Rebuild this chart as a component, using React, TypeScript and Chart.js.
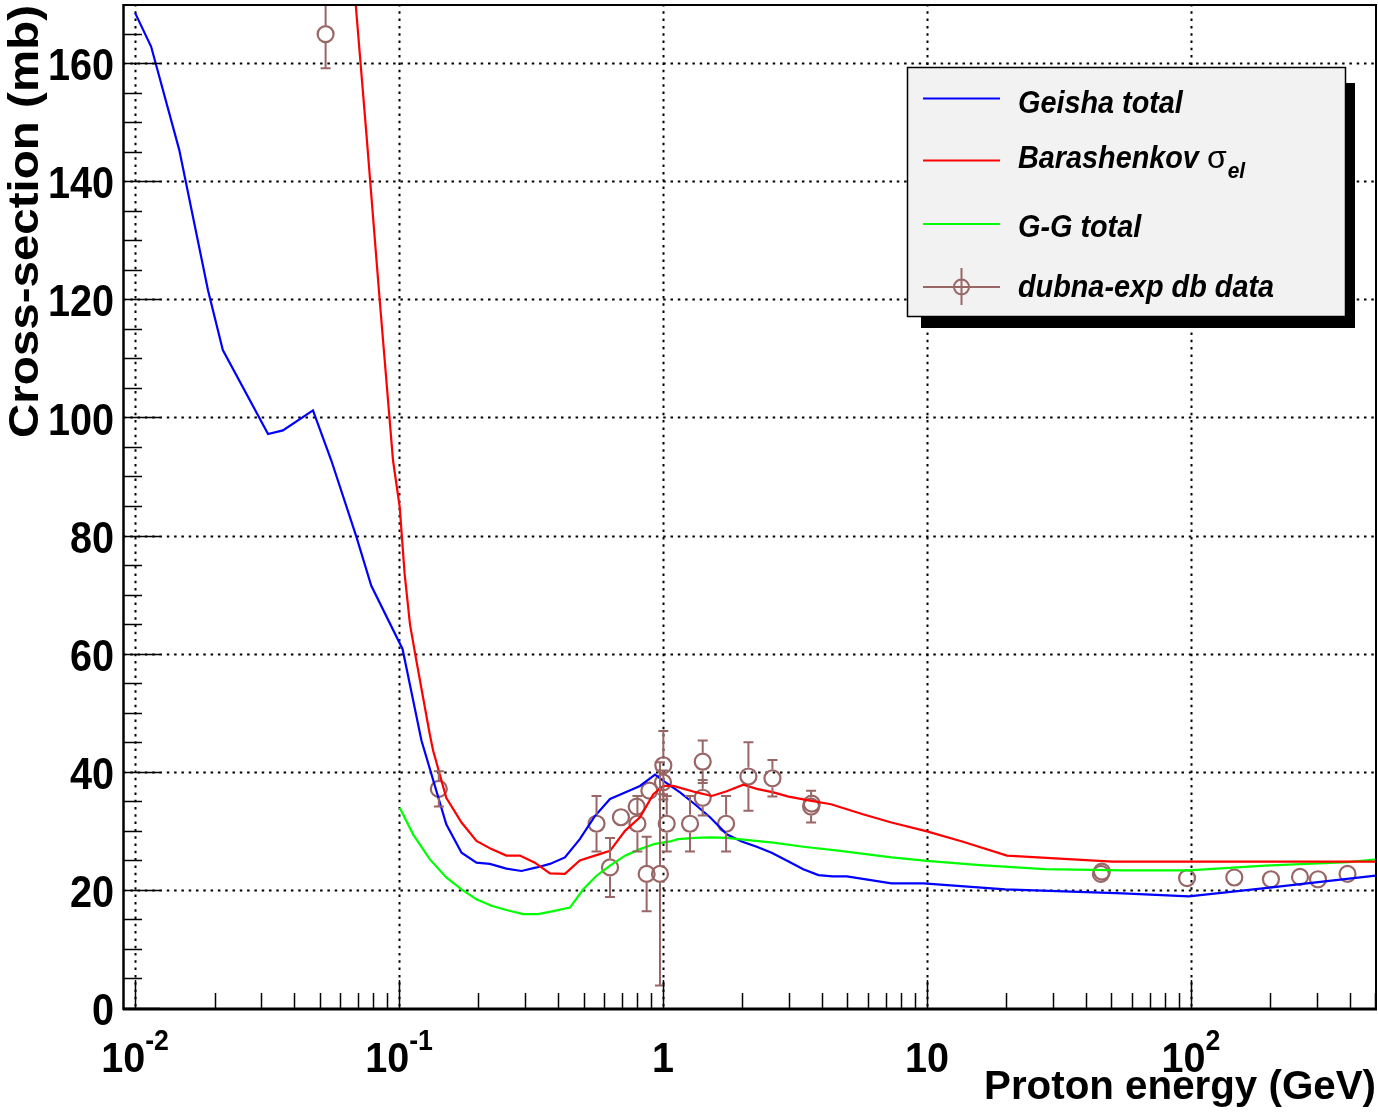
import { useEffect, useRef } from "react";
import { Chart, registerables } from "chart.js";

Chart.register(...registerables);

// ---------------- data ----------------
const geishaEnergy = [0.01, 0.0115, 0.0147, 0.0189, 0.0215, 0.0319, 0.0363, 0.0472, 0.0554, 0.0689, 0.0785, 0.1031, 0.1216, 0.151, 0.1725, 0.1965, 0.2208, 0.255, 0.291, 0.332, 0.373, 0.425, 0.484, 0.552, 0.63, 0.718, 0.818, 0.933, 1.0, 1.16, 1.32, 1.507, 1.744, 1.987, 2.265, 2.58, 2.99, 3.4, 3.88, 4.39, 4.97, 7.34, 9.7, 19.8, 55.3, 98.2, 191, 501];
const geishaXS = [168.5, 162.8, 145.3, 121.5, 111.4, 97.2, 97.8, 101.2, 92.7, 79.8, 71.5, 60.8, 45.3, 31.1, 26.3, 24.6, 24.4, 23.6, 23.2, 23.8, 24.4, 25.5, 28.6, 32.5, 35.4, 36.5, 37.6, 39.5, 38.5, 36.5, 34.5, 32.3, 29.4, 28.2, 27.3, 26.3, 24.8, 23.5, 22.5, 22.3, 22.3, 21.1, 21.1, 20.1, 19.4, 18.9, 20.3, 22.4];

const barashEnergy = [0.0657, 0.0685, 0.0752, 0.0845, 0.0949, 0.1006, 0.105, 0.11, 0.1157, 0.1307, 0.1346, 0.151, 0.1725, 0.1965, 0.224, 0.255, 0.287, 0.327, 0.373, 0.425, 0.484, 0.552, 0.63, 0.718, 0.818, 0.919, 1.003, 1.094, 1.342, 1.53, 1.744, 2.016, 2.265, 2.62, 2.99, 3.61, 4.33, 5.72, 7.34, 10.0, 13.6, 20.1, 50.4, 510];
const barashXS = [180, 170, 148.1, 119.8, 92.7, 84.8, 73.5, 65.0, 59.4, 46.4, 43.6, 35.6, 31.4, 28.3, 26.9, 25.8, 25.8, 24.6, 22.8, 22.7, 25.0, 25.8, 26.6, 30.0, 32.3, 36.2, 37.6, 37.6, 36.5, 35.9, 36.7, 37.8, 37.1, 36.5, 35.8, 35.1, 34.5, 32.8, 31.4, 29.9, 28.2, 25.8, 24.8, 24.8];

const ggEnergy = [0.1006, 0.113, 0.1307, 0.151, 0.1725, 0.1965, 0.224, 0.255, 0.295, 0.3365, 0.384, 0.444, 0.499, 0.56, 0.63, 0.718, 0.818, 0.933, 1.063, 1.14, 1.32, 1.507, 1.744, 2.016, 2.62, 3.4, 4.7, 7.34, 10, 15.9, 27.9, 55.3, 98.2, 191, 392, 510];
const ggXS = [33.9, 29.4, 25.2, 22.1, 20.1, 18.4, 17.3, 16.6, 15.9, 15.9, 16.4, 17.0, 20.1, 22.4, 24.1, 25.8, 26.9, 27.8, 28.2, 28.6, 28.8, 28.9, 28.8, 28.5, 28.0, 27.3, 26.6, 25.5, 24.9, 24.2, 23.5, 23.3, 23.3, 24.1, 24.7, 25.2];

const dubnaEnergy = [0.0527, 0.1415, 0.56, 0.63, 0.693, 0.795, 0.8, 0.867, 0.888, 0.974, 1.003, 1.0, 1.033, 1.266, 1.414, 1.414, 1.734, 2.107, 2.598, 3.64, 3.66, 45.6, 46.0, 96.7, 146, 201, 259, 303, 392];
const dubnaXS = [164.9, 37.1, 31.2, 23.8, 32.3, 34.1, 31.2, 22.7, 36.8, 22.7, 41.1, 38.2, 31.2, 31.2, 41.7, 35.6, 31.2, 39.2, 38.9, 34.1, 34.6, 22.7, 23.1, 22.0, 22.1, 21.8, 22.2, 21.8, 22.7];
const dubnaErr = [5.8, 3.0, 4.7, 5.0, 1.0, 1.5, 4.7, 6.3, 1.0, 18.9, 5.8, 2.0, 4.7, 4.7, 3.6, 3.0, 4.7, 5.8, 3.1, 2.7, 1.0, 0.8, 0.8, 0.5, 0.5, 0.5, 0.5, 0.5, 0.5];

const xMin = 0.009;
const xMax = 507;
const yMin = 0;
const yMax = 170;

const xMajorTicks = [0.01, 0.1, 1, 10, 100];
const xTickBase = ["10", "10", "1", "10", "10"];
const xTickExp = ["-2", "-1", "", "", "2"];
const yTickValues = [0, 20, 40, 60, 80, 100, 120, 140, 160];
const yMinorStep = 5;

const xTitle = "Proton energy (GeV)";
const yTitle = "Cross-section (mb)";
const legendNames = ["Geisha total", "Barashenkov ", "G-G total", "dubna-exp db data"];
const seriesColors = ["#0000ff", "#ff0000", "#00ff00", "#996666"];

const FONT = "'Liberation Sans', Arial, Helvetica, sans-serif";

function fitText(ctx: CanvasRenderingContext2D, s: string, x: number, y: number, font: string, align: CanvasTextAlign, sx: number, baseline: CanvasTextBaseline = "alphabetic") {
  ctx.save();
  ctx.font = font;
  ctx.textAlign = align;
  ctx.textBaseline = baseline;
  ctx.translate(x, y);
  ctx.scale(sx, 1);
  ctx.fillText(s, 0, 0);
  ctx.restore();
}

const rootPlugin = {
  id: "rootDecor",
  beforeDatasetsDraw(chart: any) {
    const { ctx, chartArea: a, scales } = chart;
    const xs = scales.x;
    const ys = scales.y;
    ctx.save();
    ctx.strokeStyle = "#000";
    ctx.lineWidth = 2;
    ctx.setLineDash([2.5, 4.8]);
    for (const v of xMajorTicks) {
      const px = Math.round(xs.getPixelForValue(v)) + 0.5;
      ctx.beginPath();
      ctx.moveTo(px, a.top);
      ctx.lineTo(px, a.bottom);
      ctx.stroke();
    }
    for (const v of yTickValues) {
      if (v === 0) continue;
      const py = Math.round(ys.getPixelForValue(v)) + 0.5;
      ctx.beginPath();
      ctx.moveTo(a.left, py);
      ctx.lineTo(a.right, py);
      ctx.stroke();
    }
    ctx.restore();
  },
  afterDatasetsDraw(chart: any) {
    const { ctx, chartArea: a, scales } = chart;
    const xs = scales.x;
    const ys = scales.y;

    // error bars
    ctx.save();
    ctx.beginPath();
    ctx.rect(a.left, a.top, a.right - a.left, a.bottom - a.top);
    ctx.clip();
    ctx.strokeStyle = seriesColors[3];
    ctx.lineWidth = 2;
    const r = 9;
    const cap = 5;
    dubnaEnergy.forEach((e, i) => {
      const px = xs.getPixelForValue(e);
      const py = ys.getPixelForValue(dubnaXS[i]);
      let top = ys.getPixelForValue(dubnaXS[i] + dubnaErr[i]);
      let bot = ys.getPixelForValue(dubnaXS[i] - dubnaErr[i]);
      top = Math.max(top, a.top + 1);
      bot = Math.min(bot, a.bottom - 1);
      ctx.beginPath();
      if (top < py - r) {
        ctx.moveTo(px, py - r);
        ctx.lineTo(px, top);
        ctx.moveTo(px - cap, top);
        ctx.lineTo(px + cap, top);
      }
      if (bot > py + r) {
        ctx.moveTo(px, py + r);
        ctx.lineTo(px, bot);
        ctx.moveTo(px - cap, bot);
        ctx.lineTo(px + cap, bot);
      }
      ctx.stroke();
    });
    ctx.restore();

    // ticks
    ctx.save();
    ctx.strokeStyle = "#000";
    ctx.lineWidth = 1.5;
    ctx.beginPath();
    for (let v = yMin; v < yMax; v += yMinorStep) {
      const py = Math.round(ys.getPixelForValue(v)) + 0.5;
      const len = v % 20 === 0 ? 37 : 19;
      ctx.moveTo(a.left, py);
      ctx.lineTo(a.left + len, py);
    }
    for (let d = -3; d <= 2; d++) {
      for (let k = 1; k <= 9; k++) {
        const v = k * Math.pow(10, d);
        if (v <= xMin * 1.001 || v >= xMax) continue;
        const px = Math.round(xs.getPixelForValue(v)) + 0.5;
        const len = k === 1 ? 28 : 15;
        ctx.moveTo(px, a.bottom);
        ctx.lineTo(px, a.bottom - len);
      }
    }
    ctx.stroke();

    // frame
    ctx.lineWidth = 2;
    ctx.beginPath();
    ctx.moveTo(a.left, a.top + 1);
    ctx.lineTo(a.right - 1, a.top + 1);
    ctx.lineTo(a.right - 1, a.bottom);
    ctx.stroke();
    ctx.lineWidth = 2.5;
    ctx.beginPath();
    ctx.moveTo(a.left + 0.5, a.top);
    ctx.lineTo(a.left + 0.5, a.bottom + 2);
    ctx.stroke();
    ctx.lineWidth = 3;
    ctx.beginPath();
    ctx.moveTo(a.left, a.bottom + 1);
    ctx.lineTo(a.right, a.bottom + 1);
    ctx.stroke();
    ctx.restore();

    // tick labels
    ctx.save();
    ctx.fillStyle = "#000";
    for (const v of yTickValues) {
      const py = ys.getPixelForValue(v);
      fitText(ctx, String(v), 114, py + 5, `bold 44px ${FONT}`, "right", 0.9, "middle");
    }
    xMajorTicks.forEach((v, i) => {
      const px = xs.getPixelForValue(v);
      const baseFont = `bold 43px ${FONT}`;
      const expFont = `bold 29px ${FONT}`;
      const sx = 0.92;
      ctx.font = baseFont;
      const wb = ctx.measureText(xTickBase[i]).width * sx;
      ctx.font = expFont;
      const we = xTickExp[i] ? ctx.measureText(xTickExp[i]).width * sx : 0;
      const x0 = px - (wb + we) / 2;
      fitText(ctx, xTickBase[i], x0, 1072, baseFont, "left", sx);
      if (xTickExp[i]) {
        fitText(ctx, xTickExp[i], x0 + wb, 1050, expFont, "left", sx);
      }
    });
    ctx.restore();

    // axis titles
    ctx.save();
    ctx.fillStyle = "#000";
    ctx.font = `bold 40px ${FONT}`;
    const wx = ctx.measureText(xTitle).width;
    fitText(ctx, xTitle, 1376, 1099, `bold 40px ${FONT}`, "right", 392 / wx);
    ctx.font = `bold 43px ${FONT}`;
    const wy = ctx.measureText(yTitle).width;
    ctx.translate(38, 5);
    ctx.rotate(-Math.PI / 2);
    ctx.scale(433 / wy, 1);
    ctx.textAlign = "right";
    ctx.textBaseline = "alphabetic";
    ctx.fillText(yTitle, 0, 0);
    ctx.restore();

    // legend
    ctx.save();
    ctx.fillStyle = "#000";
    ctx.fillRect(921, 83, 434, 245);
    ctx.fillStyle = "#f2f2f2";
    ctx.fillRect(907, 67, 439, 250);
    ctx.strokeStyle = "#000";
    ctx.lineWidth = 1.5;
    ctx.strokeRect(907.5, 67.5, 438, 249);
    const rowY = [98.5, 160.5, 224, 287];
    const baseY = [113, 168, 237, 297];
    for (let i = 0; i < 4; i++) {
      ctx.strokeStyle = seriesColors[i];
      ctx.lineWidth = 2;
      ctx.beginPath();
      ctx.moveTo(923, rowY[i]);
      ctx.lineTo(1000, rowY[i]);
      ctx.stroke();
      ctx.fillStyle = "#000";
      fitText(ctx, legendNames[i], 1018, baseY[i], `italic bold 32px ${FONT}`, "left", 0.9);
    }
    ctx.strokeStyle = seriesColors[3];
    ctx.lineWidth = 2;
    ctx.beginPath();
    ctx.arc(961.5, 287, 7.5, 0, Math.PI * 2);
    ctx.moveTo(961.5, 268);
    ctx.lineTo(961.5, 305);
    ctx.stroke();
    ctx.font = `italic bold 32px ${FONT}`;
    const wBar = ctx.measureText(legendNames[1]).width * 0.9;
    ctx.fillStyle = "#000";
    const sx0 = 1018 + wBar;
    fitText(ctx, "\u03c3", sx0, 168, `32px ${FONT}`, "left", 1);
    ctx.font = `32px ${FONT}`;
    const ws = ctx.measureText("\u03c3").width;
    fitText(ctx, "el", sx0 + ws + 1, 178, `italic bold 22px ${FONT}`, "left", 0.95);
    ctx.restore();
  },
};

function pts(xv: number[], yv: number[]) {
  return xv.map((x, i) => ({ x, y: yv[i] }));
}

export default function App() {
  const ref = useRef<HTMLCanvasElement>(null);
  useEffect(() => {
    document.body.style.margin = "0";
    const canvas = ref.current!;
    const lineDs = (label: string, xv: number[], yv: number[], color: string) => ({
      label,
      data: pts(xv, yv),
      showLine: true,
      borderColor: color,
      backgroundColor: color,
      borderWidth: 2.2,
      pointRadius: 0,
      pointHoverRadius: 0,
      tension: 0,
      clip: 0,
    });
    const chart = new Chart(canvas, {
      type: "scatter",
      data: {
        datasets: [
          lineDs(legendNames[1], barashEnergy, barashXS, seriesColors[1]),
          lineDs(legendNames[2], ggEnergy, ggXS, seriesColors[2]),
          lineDs(legendNames[0], geishaEnergy, geishaXS, seriesColors[0]),
          {
            label: legendNames[3],
            data: pts(dubnaEnergy, dubnaXS),
            showLine: false,
            pointStyle: "circle",
            pointRadius: 8,
            pointBorderWidth: 2.2,
            pointBorderColor: seriesColors[3],
            pointBackgroundColor: "rgba(0,0,0,0)",
            borderColor: seriesColors[3],
            backgroundColor: "rgba(0,0,0,0)",
            clip: 0,
          } as any,
        ],
      },
      options: {
        responsive: false,
        animation: false,
        devicePixelRatio: 1,
        layout: { autoPadding: false, padding: { left: 123, top: 4, right: 1, bottom: 108 } },
        scales: {
          x: { type: "logarithmic", min: xMin, max: xMax, display: false },
          y: { type: "linear", min: yMin, max: yMax, display: false },
        },
        plugins: { legend: { display: false }, tooltip: { enabled: false } },
        events: [],
      },
      plugins: [rootPlugin],
    } as any);
    return () => chart.destroy();
  }, []);
  return (
    <div style={{ position: "absolute", left: 0, top: 0, width: 1378, height: 1116, background: "#fff" }}>
      <canvas ref={ref} width={1378} height={1116} style={{ display: "block" }} />
    </div>
  );
}
